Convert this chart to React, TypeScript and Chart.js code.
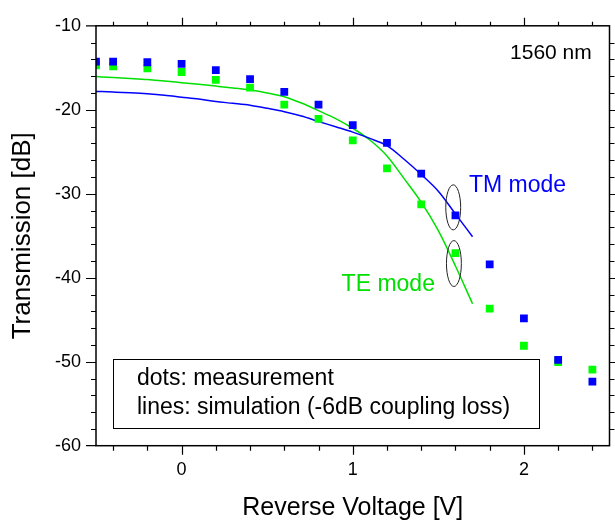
import React, { useEffect, useRef } from "react";
import { Chart, registerables } from "chart.js";

Chart.register(...registerables);

// ---- data ----
const measVoltage = [-0.5, -0.4, -0.2, 0, 0.2, 0.4, 0.6, 0.8, 1.0, 1.2, 1.4, 1.6, 1.8, 2.0, 2.2, 2.4];
const tmMeasured = [-14.26, -14.26, -14.34, -14.54, -15.27, -16.34, -17.88, -19.38, -21.83, -23.94, -27.61, -32.58, -38.42, -44.84, -49.79, -52.36];
const teMeasured = [-14.72, -14.84, -15.07, -15.5, -16.45, -17.37, -19.38, -21.08, -23.64, -26.98, -31.26, -37.07, -43.69, -48.1, -50.06, -50.94];

const simVoltage = [-0.5, -0.4, -0.3, -0.2, -0.1, 0, 0.1, 0.2, 0.3, 0.4, 0.5, 0.6, 0.7, 0.8, 0.9, 1.0, 1.1, 1.2, 1.3, 1.4, 1.5, 1.6, 1.7];
const tmSimulated = [-17.81, -17.89, -17.98, -18.1, -18.27, -18.5, -18.73, -19.02, -19.23, -19.46, -19.83, -20.23, -20.75, -21.39, -22.02, -22.66, -23.41, -24.27, -25.89, -27.7, -29.69, -32.4, -35.12];
const teSimulated = [-16.05, -16.15, -16.27, -16.4, -16.57, -16.77, -16.97, -17.18, -17.4, -17.65, -18.0, -18.45, -19.2, -20.1, -21.05, -22.2, -23.6, -25.5, -28.2, -31.0, -34.4, -38.6, -43.1];

const xLabelTicks = [0, 1, 2];
const xAllTicks = [-0.4, -0.2, 0, 0.2, 0.4, 0.6, 0.8, 1, 1.2, 1.4, 1.6, 1.8, 2, 2.2, 2.4];
const yLabelTicks = [-60, -50, -40, -30, -20, -10];
const yAllTicks = [-58, -56, -54, -52, -50, -48, -46, -44, -42, -40, -38, -36, -34, -32, -30, -28, -26, -24, -22, -20, -18, -16, -14, -12];

// annotations (data coordinates)
const ellipses = [
  { x: 1.587, y: -31.62, rx: 0.0435, ry: 2.68 },
  { x: 1.591, y: -38.31, rx: 0.0435, ry: 2.73 },
];
const legendBox = { x1: -0.403, x2: 2.087, y1: -49.73, y2: -57.92 };
const legendLines = [
  { text: "dots: measurement", x: -0.261, y: -52.0 },
  { text: "lines: simulation (-6dB coupling loss)", x: -0.261, y: -55.42 },
];
const textLabels = [
  { text: "1560 nm", x: 1.919, y: -13.23, color: "#000000", size: 21 },
  { text: "TM mode", x: 1.679, y: -29.0, color: "#0000ff", size: 23 },
  { text: "TE mode", x: 0.935, y: -40.8, color: "#00e000", size: 23 },
];

const FONT = "'Liberation Sans', Arial, sans-serif";
const BLUE = "#0000ff";
const GREEN = "#00ff00";
const GREEN_LINE = "#00e000";

const toXY = (xs: number[], ys: number[]) => xs.map((x, i) => ({ x, y: ys[i] }));

const decorPlugin = {
  id: "decor",
  afterDatasetsDraw(chart: any) {
    const { ctx, scales } = chart;
    const x = scales.x;
    const y = scales.y;
    ctx.save();
    // ellipses
    ctx.strokeStyle = "#222";
    ctx.lineWidth = 1;
    ellipses.forEach((e) => {
      const cx = x.getPixelForValue(e.x);
      const cy = y.getPixelForValue(e.y);
      const rx = Math.abs(x.getPixelForValue(e.x + e.rx) - cx);
      const ry = Math.abs(y.getPixelForValue(e.y + e.ry) - cy);
      ctx.beginPath();
      ctx.ellipse(cx, cy, rx, ry, 0, 0, Math.PI * 2);
      ctx.stroke();
    });
    // legend box
    const bx1 = x.getPixelForValue(legendBox.x1);
    const bx2 = x.getPixelForValue(legendBox.x2);
    const by1 = y.getPixelForValue(legendBox.y1);
    const by2 = y.getPixelForValue(legendBox.y2);
    ctx.fillStyle = "#fff";
    ctx.fillRect(bx1, by1, bx2 - bx1, by2 - by1);
    ctx.strokeStyle = "#000";
    ctx.lineWidth = 1;
    ctx.strokeRect(Math.round(bx1) + 0.5, Math.round(by1) + 0.5, Math.round(bx2 - bx1), Math.round(by2 - by1));
    ctx.fillStyle = "#000";
    ctx.font = `23px ${FONT}`;
    ctx.textAlign = "left";
    ctx.textBaseline = "middle";
    legendLines.forEach((l) => {
      ctx.fillText(l.text, x.getPixelForValue(l.x), y.getPixelForValue(l.y));
    });
    textLabels.forEach((t) => {
      ctx.fillStyle = t.color;
      ctx.font = `${t.size}px ${FONT}`;
      ctx.fillText(t.text, x.getPixelForValue(t.x), y.getPixelForValue(t.y));
    });
    ctx.restore();
  },
  afterDraw(chart: any) {
    const { ctx, chartArea: a, scales } = chart;
    const x = scales.x;
    const y = scales.y;
    ctx.save();
    ctx.strokeStyle = "#000";
    ctx.lineWidth = 1.5;
    ctx.strokeRect(a.left, a.top, a.right - a.left, a.bottom - a.top);
    ctx.lineWidth = 1.2;
    ctx.beginPath();
    xAllTicks.forEach((v) => {
      const px = Math.round(x.getPixelForValue(v)) + 0.5;
      const major = xLabelTicks.includes(v);
      ctx.moveTo(px, a.bottom);
      ctx.lineTo(px, a.bottom + (major ? 9 : 5));
      ctx.moveTo(px, a.top);
      ctx.lineTo(px, a.top - (major ? 8 : 4));
    });
    [...yAllTicks, ...yLabelTicks.filter((v) => v > -60 && v < -10)].forEach((v) => {
      const py = Math.round(y.getPixelForValue(v)) + 0.5;
      const major = yLabelTicks.includes(v);
      ctx.moveTo(a.left, py);
      ctx.lineTo(a.left - (major ? 10 : 5), py);
      ctx.moveTo(a.right, py);
      ctx.lineTo(a.right + (major ? 8 : 5), py);
    });
    [-60, -10].forEach((v) => {
      const py = y.getPixelForValue(v);
      ctx.moveTo(a.left, py);
      ctx.lineTo(a.left - 10, py);
    });
    ctx.stroke();
    ctx.restore();
  },
};

export default function App() {
  const ref = useRef<HTMLCanvasElement | null>(null);
  useEffect(() => {
    document.body.style.margin = "0";
    const canvas = ref.current;
    if (!canvas) return;
    const chart = new Chart(canvas, {
      type: "scatter",
      data: {
        datasets: [
          {
            label: "TM measured",
            data: toXY(measVoltage, tmMeasured),
            showLine: false,
            pointStyle: "rect",
            pointRadius: 5.5,
            pointBorderWidth: 0,
            backgroundColor: BLUE,
            borderColor: BLUE,
          },
          {
            label: "TE measured",
            data: toXY(measVoltage, teMeasured),
            showLine: false,
            pointStyle: "rect",
            pointRadius: 5.5,
            pointBorderWidth: 0,
            backgroundColor: GREEN,
            borderColor: GREEN,
          },
          {
            label: "TM simulated",
            data: toXY(simVoltage, tmSimulated),
            showLine: true,
            pointRadius: 0,
            borderColor: BLUE,
            borderWidth: 1.5,
            cubicInterpolationMode: "monotone",
          },
          {
            label: "TE simulated",
            data: toXY(simVoltage, teSimulated),
            showLine: true,
            pointRadius: 0,
            borderColor: GREEN_LINE,
            borderWidth: 1.5,
            cubicInterpolationMode: "monotone",
          },
        ],
      },
      options: {
        animation: false,
        responsive: false,
        devicePixelRatio: 1,
        layout: { padding: { top: 12.3, right: 2.3, left: 0, bottom: 0 } },
        plugins: { legend: { display: false }, tooltip: { enabled: false } },
        scales: {
          x: {
            type: "linear",
            min: -0.5,
            max: 2.5,
            afterBuildTicks: (s: any) => {
              s.ticks = xLabelTicks.map((v) => ({ value: v }));
            },
            afterFit: (s: any) => {
              s.height = 77.3;
            },
            grid: { display: false, drawTicks: false, tickLength: 0 },
            border: { display: false },
            ticks: { color: "#000", font: { family: FONT, size: 18 }, padding: 14, maxRotation: 0 },
            title: {
              display: true,
              text: "Reverse Voltage [V]",
              color: "#000",
              font: { family: FONT, size: 25 },
              padding: { top: 0, bottom: 0 },
            },
          },
          y: {
            type: "linear",
            min: -60,
            max: -10,
            afterBuildTicks: (s: any) => {
              s.ticks = yLabelTicks.map((v) => ({ value: v }));
            },
            afterFit: (s: any) => {
              s.width = 96;
            },
            grid: { display: false, drawTicks: false, tickLength: 0 },
            border: { display: false },
            ticks: { color: "#000", font: { family: FONT, size: 18 }, padding: 15 },
            title: {
              display: true,
              text: "Transmission [dB]",
              color: "#000",
              font: { family: FONT, size: 26 },
              padding: { top: 7, bottom: 0 },
            },
          },
        },
      },
      plugins: [decorPlugin],
    } as any);
    return () => chart.destroy();
  }, []);
  return (
    <div style={{ width: 615, height: 523 }}>
      <canvas ref={ref} width={615} height={523} style={{ display: "block" }} />
    </div>
  );
}
